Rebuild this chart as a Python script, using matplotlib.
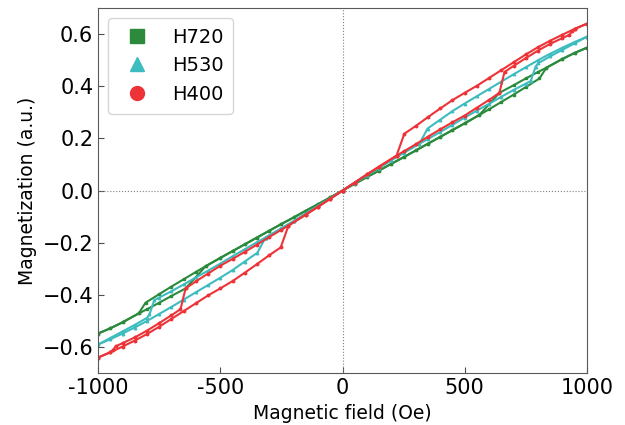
import matplotlib
matplotlib.use("Agg")
import matplotlib.pyplot as plt
from matplotlib.lines import Line2D

# H720 (green) - field descending branch and field ascending branch
h720_desc_H = [1000, 950, 900, 834, 800, 750, 700, 642, 560, 500, 450, 400, 350, 300, 250, 200, 150, 100, 50, 0,
               -50, -100, -150, -200, -250, -300, -350, -400, -450, -500, -560, -600, -650, -700, -750, -806,
               -834, -900, -950, -1000]
h720_desc_M = [0.548, 0.528, 0.505, 0.471, 0.455, 0.430, 0.404, 0.375, 0.290, 0.258, 0.232, 0.206, 0.180, 0.154,
               0.128, 0.103, 0.077, 0.052, 0.026, 0.0,
               -0.026, -0.052, -0.077, -0.103, -0.128, -0.154, -0.180, -0.206, -0.232, -0.258, -0.290, -0.312,
               -0.340, -0.368, -0.397, -0.430, -0.471, -0.505, -0.528, -0.548]
h720_asc_H = [-1000, -950, -900, -834, -800, -750, -700, -642, -560, -500, -450, -400, -350, -300, -250, -200, -150,
              -100, -50, 0, 50, 100, 150, 200, 250, 300, 350, 400, 450, 500, 560, 600, 650, 700, 750, 806, 834, 900,
              950, 1000]
h720_asc_M = [-0.548, -0.528, -0.505, -0.471, -0.455, -0.430, -0.404, -0.375, -0.290, -0.258, -0.232, -0.206,
              -0.180, -0.154, -0.128, -0.103, -0.077, -0.052, -0.026, 0.0,
              0.026, 0.052, 0.077, 0.103, 0.128, 0.154, 0.180, 0.206, 0.232, 0.258, 0.290, 0.312, 0.340, 0.368,
              0.397, 0.430, 0.471, 0.505, 0.528, 0.548]

# H530 (cyan)
h530_desc_H = [1000, 950, 900, 850, 800, 750, 700, 650, 600, 550, 500, 450, 400, 348, 315, 250, 200, 150, 100, 50, 0,
               -50, -100, -150, -200, -250, -315, -350, -400, -450, -500, -550, -600, -650, -700, -750, -770, -790,
               -800, -850, -900, -950, -1000]
h530_desc_M = [0.590, 0.570, 0.548, 0.525, 0.500, 0.473, 0.446, 0.418, 0.390, 0.362, 0.334, 0.305, 0.272, 0.238,
               0.180, 0.145, 0.117, 0.088, 0.059, 0.030, 0.0,
               -0.030, -0.059, -0.088, -0.117, -0.145, -0.180, -0.198, -0.225, -0.252, -0.280, -0.307, -0.333,
               -0.360, -0.386, -0.410, -0.420, -0.475, -0.488, -0.515, -0.540, -0.565, -0.590]
h530_asc_H = [-1000, -950, -900, -850, -800, -750, -700, -650, -600, -550, -500, -450, -400, -348, -315, -250, -200,
              -150, -100, -50, 0, 50, 100, 150, 200, 250, 315, 350, 400, 450, 500, 550, 600, 650, 700, 750, 770, 790,
              800, 850, 900, 950, 1000]
h530_asc_M = [-0.590, -0.570, -0.548, -0.525, -0.500, -0.473, -0.446, -0.418, -0.390, -0.362, -0.334, -0.305,
              -0.272, -0.238, -0.180, -0.145, -0.117, -0.088, -0.059, -0.030, 0.0,
              0.030, 0.059, 0.088, 0.117, 0.145, 0.180, 0.198, 0.225, 0.252, 0.280, 0.307, 0.333, 0.360, 0.386,
              0.410, 0.420, 0.475, 0.488, 0.515, 0.540, 0.565, 0.590]

# H400 (red)
h400_desc_H = [1000, 950, 900, 850, 800, 750, 700, 650, 600, 550, 500, 450, 400, 350, 300, 253, 221, 150, 100, 50, 0,
               -50, -100, -150, -221, -250, -300, -350, -400, -450, -500, -550, -600, -642, -663, -700, -750, -800,
               -850, -900, -928, -940, -950, -1000]
h400_desc_M = [0.640, 0.620, 0.598, 0.575, 0.550, 0.522, 0.492, 0.462, 0.432, 0.402, 0.375, 0.347, 0.315, 0.282,
               0.248, 0.218, 0.134, 0.092, 0.062, 0.031, 0.0,
               -0.031, -0.062, -0.092, -0.134, -0.150, -0.178, -0.207, -0.235, -0.262, -0.288, -0.318, -0.348,
               -0.375, -0.455, -0.478, -0.508, -0.537, -0.563, -0.585, -0.597, -0.612, -0.620, -0.640]
h400_asc_H = [-1000, -950, -900, -850, -800, -750, -700, -650, -600, -550, -500, -450, -400, -350, -300, -253, -221,
              -150, -100, -50, 0, 50, 100, 150, 221, 250, 300, 350, 400, 450, 500, 550, 600, 642, 663, 700, 750, 800,
              850, 900, 928, 940, 950, 1000]
h400_asc_M = [-0.640, -0.620, -0.598, -0.575, -0.550, -0.522, -0.492, -0.462, -0.432, -0.402, -0.375, -0.347,
              -0.315, -0.282, -0.248, -0.218, -0.134, -0.092, -0.062, -0.031, 0.0,
              0.031, 0.062, 0.092, 0.134, 0.150, 0.178, 0.207, 0.235, 0.262, 0.288, 0.318, 0.348, 0.375, 0.455,
              0.478, 0.508, 0.537, 0.563, 0.585, 0.597, 0.612, 0.620, 0.640]

labels = ["H720", "H530", "H400"]
xticks = [-1000, -500, 0, 500, 1000]
xtick_labels = ["-1000", "-500", "0", "500", "1000"]
yticks = [-0.6, -0.4, -0.2, 0.0, 0.2, 0.4, 0.6]

colors = ["#2b8a3c", "#3dbcc0", "#ee3338"]
markers = ["s", "^", "o"]

fig = plt.figure(figsize=(6.25, 4.25), dpi=100)
ax = fig.add_axes([0.157, 0.122, 0.782, 0.859])

ax.axhline(0, color="gray", ls=":", lw=0.8)
ax.axvline(0, color="gray", ls=":", lw=0.8)

series = [
    (h720_desc_H, h720_desc_M, h720_asc_H, h720_asc_M),
    (h530_desc_H, h530_desc_M, h530_asc_H, h530_asc_M),
    (h400_desc_H, h400_desc_M, h400_asc_H, h400_asc_M),
]
for (dh, dm, ah, am), c, m in zip(series, colors, markers):
    ax.plot(dh, dm, color=c, lw=1.5, marker=m, ms=1.8)
    ax.plot(ah, am, color=c, lw=1.5, marker=m, ms=1.8)

ax.set_xlim(-1000, 1000)
ax.set_ylim(-0.7, 0.7)
ax.set_xticks(xticks)
ax.set_xticklabels(xtick_labels)
ax.set_yticks(yticks)
ax.tick_params(direction="in", labelsize=15, length=4, color="0.3")
for s in ax.spines.values():
    s.set_color("0.35")

ax.set_xlabel("Magnetic field (Oe)", fontsize=13.5)
ax.set_ylabel("Magnetization (a.u.)", fontsize=13.5)

handles = [Line2D([], [], ls="none", marker=m, color=c, ms=10) for c, m in zip(colors, markers)]
ax.legend(handles, labels, loc="upper left", fontsize=14, handletextpad=0.8, borderpad=0.5)

fig.savefig("out.png", dpi=100)
